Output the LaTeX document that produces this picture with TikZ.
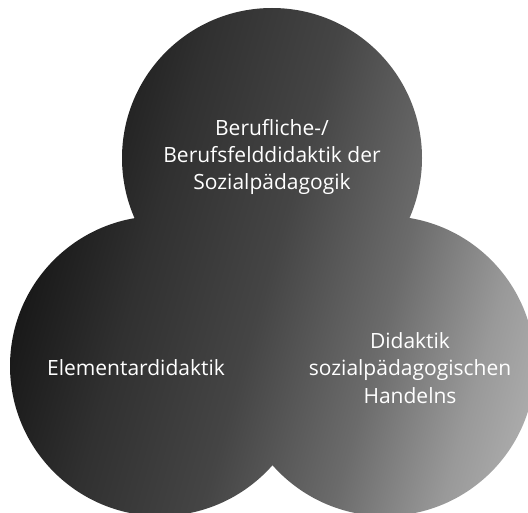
\documentclass[tikz,border=0pt]{standalone}
\usepackage{fontspec}
\setmainfont{Open Sans}
\usetikzlibrary{positioning}

% gradient from black (left) to light grey (right)
\pgfdeclarehorizontalshading{graugrad}{100bp}{
  color(0bp)=(black!95); color(25bp)=(black!93); color(38bp)=(black!81);
  color(50bp)=(black!73); color(62bp)=(black!58); color(72bp)=(black!40);
  color(80bp)=(black!30); color(100bp)=(black!22)}

\begin{document}
\begin{tikzpicture}[x=1pt, y=-1pt]

\useasboundingbox (0,0) rectangle (528,513);

% kreise
\coordinate (top) at (272,158);
\coordinate (left) at (160,366);
\coordinate (right) at (385,366);

\shade[shading=graugrad, shading angle=-16]
  (top) circle[radius=150pt]
  (left) circle[radius=150pt]
  (right) circle[radius=150pt];

% beschriftungen
\tikzset{label/.style={white, align=center, font=\fontsize{21}{27.2}\selectfont}}
\node[label] (beruf) at (272,157) {Berufliche-/\\Berufsfelddidaktik der\\Sozialpädagogik};
\node[label] (elem) at (136,368) {Elementardidaktik};
\node[label] (handeln) at (410,368) {Didaktik\\sozialpädagogischen\\Handelns};

\end{tikzpicture}
\end{document}
